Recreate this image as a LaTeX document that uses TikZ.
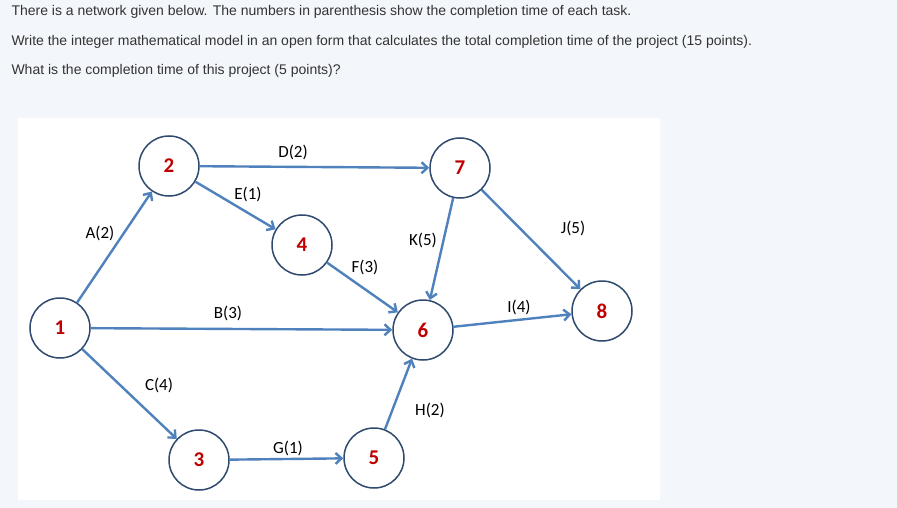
\documentclass[tikz,border=0pt]{standalone}
\usepackage{fontspec}
\setmainfont{Liberation Sans}
\newfontfamily\calib{Carlito}
\usetikzlibrary{arrows.meta}
\definecolor{bg}{HTML}{F3F6FA}
\definecolor{edge}{HTML}{4F81BD}
\definecolor{ring}{HTML}{2F4A6E}
\definecolor{num}{HTML}{C00000}
\definecolor{txt}{HTML}{333333}
\tikzset{
  ev/.style={circle,draw=ring,line width=1.5pt,fill=white,minimum size=60pt,inner sep=0pt,font=\calib\fontsize{21}{21}\selectfont\bfseries,text=num},
  act/.style={draw=edge,line width=2.4pt,-{Straight Barb[length=6pt,width=11pt]}},
  lab/.style={font=\calib\fontsize{17}{17}\selectfont,text=black},
  q/.style={anchor=west,font=\fontsize{14}{16}\selectfont,text=txt}
}
\begin{document}
\begin{tikzpicture}[x=1pt,y=-1pt]
\fill[bg] (0,0) rectangle (897,508);
\fill[white] (18,118) rectangle (660,500);
\node[q] (t1) at (8,12) {There is a network given below. The numbers in parenthesis show the completion time of each task.};
\node[q] (t2) at (8,42) {Write the integer mathematical model in an open form that calculates the total completion time of the project (15 points).};
\node[q] (t3) at (8,71) {What is the completion time of this project (5 points)?};
\node[ev] (n1) at (60,328) {1};
\node[ev] (n2) at (169,166) {2};
\node[ev] (n7) at (460,168) {7};
\node[ev] (n4) at (302,245) {4};
\node[ev] (n6) at (423,330) {6};
\node[ev] (n8) at (602,311) {8};
\node[ev] (n3) at (199,460) {3};
\node[ev] (n5) at (374,458) {5};
\draw[act] (n1) -- (n2);
\draw[act] (n2) -- (n7);
\draw[act] (n2) -- (n4);
\draw[act] (n4) -- (n6);
\draw[act] (n7) -- (n6);
\draw[act] (n7) -- (n8);
\draw[act] (n1) -- (n6);
\draw[act] (n6) -- (n8);
\draw[act] (n1) -- (n3);
\draw[act] (n3) -- (n5);
\draw[act] (n5) -- (n6);
\node[lab] (lD) at (293,152) {D(2)};
\node[lab] (lE) at (248,194) {E(1)};
\node[lab] (lA) at (100,233) {A(2)};
\node[lab] (lK) at (423,240) {K(5)};
\node[lab] (lJ) at (573,228) {J(5)};
\node[lab] (lF) at (365,267) {F(3)};
\node[lab] (lB) at (228,313) {B(3)};
\node[lab] (lI) at (519,307) {I(4)};
\node[lab] (lC) at (159,385) {C(4)};
\node[lab] (lH) at (430,410) {H(2)};
\node[lab] (lG) at (288,448) {G(1)};
\end{tikzpicture}
\end{document}
